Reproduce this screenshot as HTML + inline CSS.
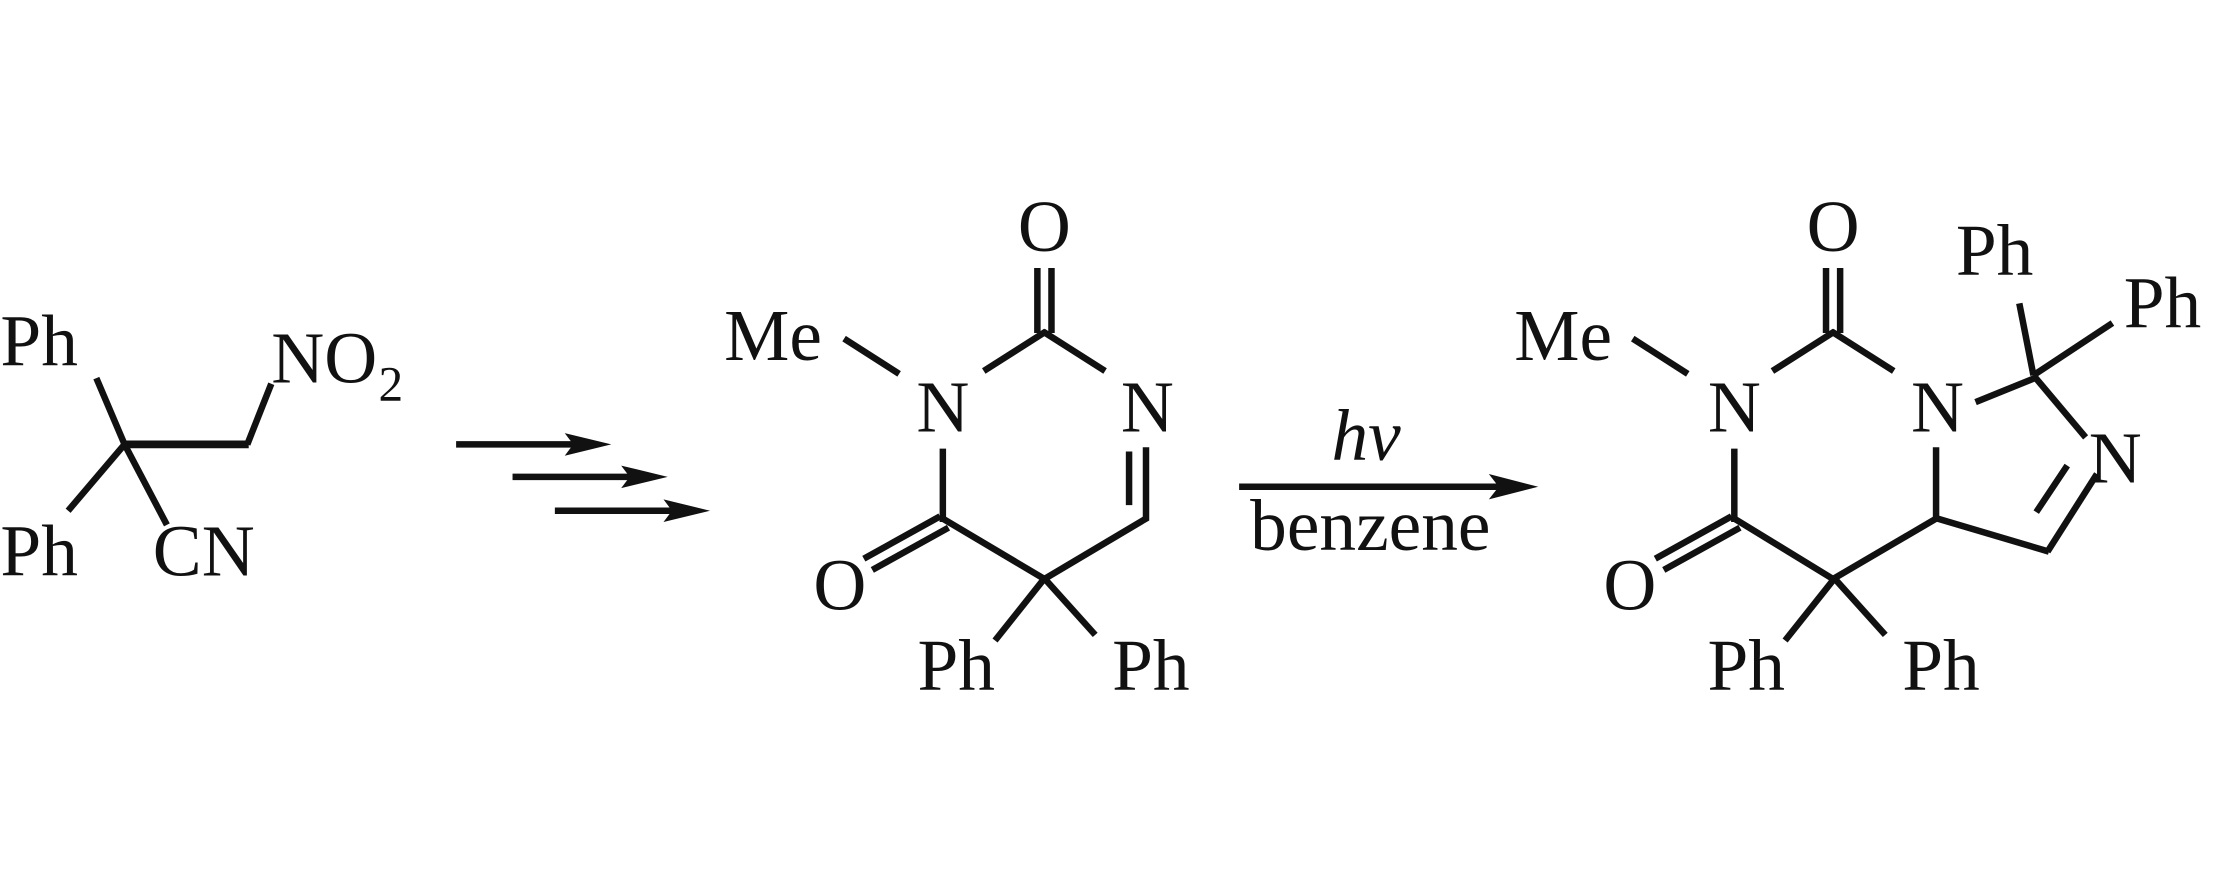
<!DOCTYPE html>
<html><head><meta charset="utf-8"><style>
html,body{margin:0;padding:0;background:#fff;}
svg{display:block;}
text{font-family:"Liberation Serif",serif;font-size:52px;fill:#111;}
</style></head><body>
<svg width="2213" height="886" viewBox="0 0 1568 628" xmlns="http://www.w3.org/2000/svg">
<g stroke="#111" stroke-width="4.6" fill="none" stroke-linecap="butt">
<line x1="88" y1="315" x2="68" y2="268"/>
<line x1="86" y1="315" x2="176" y2="315" stroke-width="5.5"/>
<line x1="175" y1="315" x2="192" y2="272"/>
<line x1="88" y1="315" x2="48" y2="362"/>
<line x1="88" y1="315" x2="118" y2="372"/>
<line x1="323" y1="315" x2="410" y2="315"/>
<line x1="363" y1="338" x2="450" y2="338"/>
<line x1="393" y1="362" x2="480" y2="362"/>
<line x1="735" y1="190" x2="735" y2="236"/>
<line x1="745" y1="190" x2="745" y2="236"/>
<line x1="741" y1="235" x2="697" y2="263"/>
<line x1="739" y1="235" x2="783" y2="263"/>
<line x1="598" y1="240" x2="637" y2="265"/>
<line x1="668" y1="318" x2="668" y2="370"/>
<line x1="666" y1="366" x2="612" y2="396"/>
<line x1="672" y1="374" x2="618" y2="404"/>
<line x1="667" y1="367" x2="741" y2="411"/>
<line x1="739" y1="411" x2="813" y2="367"/>
<line x1="812" y1="317" x2="812" y2="369"/>
<line x1="800" y1="320" x2="800" y2="358"/>
<line x1="740" y1="410" x2="705" y2="454"/>
<line x1="740" y1="410" x2="776" y2="450"/>
<line x1="878" y1="345" x2="1065" y2="345"/>
<line x1="1294" y1="190" x2="1294" y2="236"/>
<line x1="1304" y1="190" x2="1304" y2="236"/>
<line x1="1300" y1="235" x2="1256" y2="263"/>
<line x1="1298" y1="235" x2="1342" y2="263"/>
<line x1="1157" y1="240" x2="1196" y2="265"/>
<line x1="1229" y1="318" x2="1229" y2="370"/>
<line x1="1227" y1="366" x2="1173" y2="396"/>
<line x1="1233" y1="374" x2="1179" y2="404"/>
<line x1="1228" y1="367" x2="1300" y2="411"/>
<line x1="1298" y1="411" x2="1373" y2="367"/>
<line x1="1372" y1="317" x2="1372" y2="369"/>
<line x1="1371" y1="367" x2="1452" y2="391"/>
<line x1="1451" y1="391" x2="1486" y2="336"/>
<line x1="1443" y1="363" x2="1465" y2="330"/>
<line x1="1400" y1="285" x2="1442" y2="268"/>
<line x1="1441" y1="266" x2="1478" y2="310"/>
<line x1="1441" y1="266" x2="1431" y2="215"/>
<line x1="1441" y1="266" x2="1497" y2="229"/>
<line x1="1300" y1="410" x2="1265" y2="454"/>
<line x1="1300" y1="410" x2="1336" y2="450"/>
</g>
<g fill="#111">
<polygon points="433,315 400,307 406,315 400,323"/>
<polygon points="473,338 440,330 446,338 440,346"/>
<polygon points="503,362 470,354 476,362 470,370"/>
<polygon points="1090,345 1055,336 1062,345 1055,354"/>
</g>
<text x="0" y="259">Ph</text>
<text x="192" y="271">NO</text><text x="268" y="284" style="font-size:35px">2</text>
<text x="0" y="408">Ph</text>
<text x="108" y="408">CN</text>
<text x="740" y="178" text-anchor="middle">O</text>
<text x="513" y="255">Me</text>
<text x="668" y="306" text-anchor="middle">N</text>
<text x="813" y="306" text-anchor="middle">N</text>
<text x="595" y="432" text-anchor="middle">O</text>
<text x="650" y="489">Ph</text>
<text x="788" y="489">Ph</text>
<text x="968" y="326" text-anchor="middle" style="font-style:italic">hv</text>
<text x="971" y="390" text-anchor="middle">benzene</text>
<text x="1299" y="178" text-anchor="middle">O</text>
<text x="1073" y="255">Me</text>
<text x="1229" y="306" text-anchor="middle">N</text>
<text x="1373" y="306" text-anchor="middle">N</text>
<text x="1499" y="342" text-anchor="middle">N</text>
<text x="1155" y="432" text-anchor="middle">O</text>
<text x="1210" y="489">Ph</text>
<text x="1348" y="489">Ph</text>
<text x="1386" y="195">Ph</text>
<text x="1505" y="232">Ph</text>
</svg>
</body></html>
